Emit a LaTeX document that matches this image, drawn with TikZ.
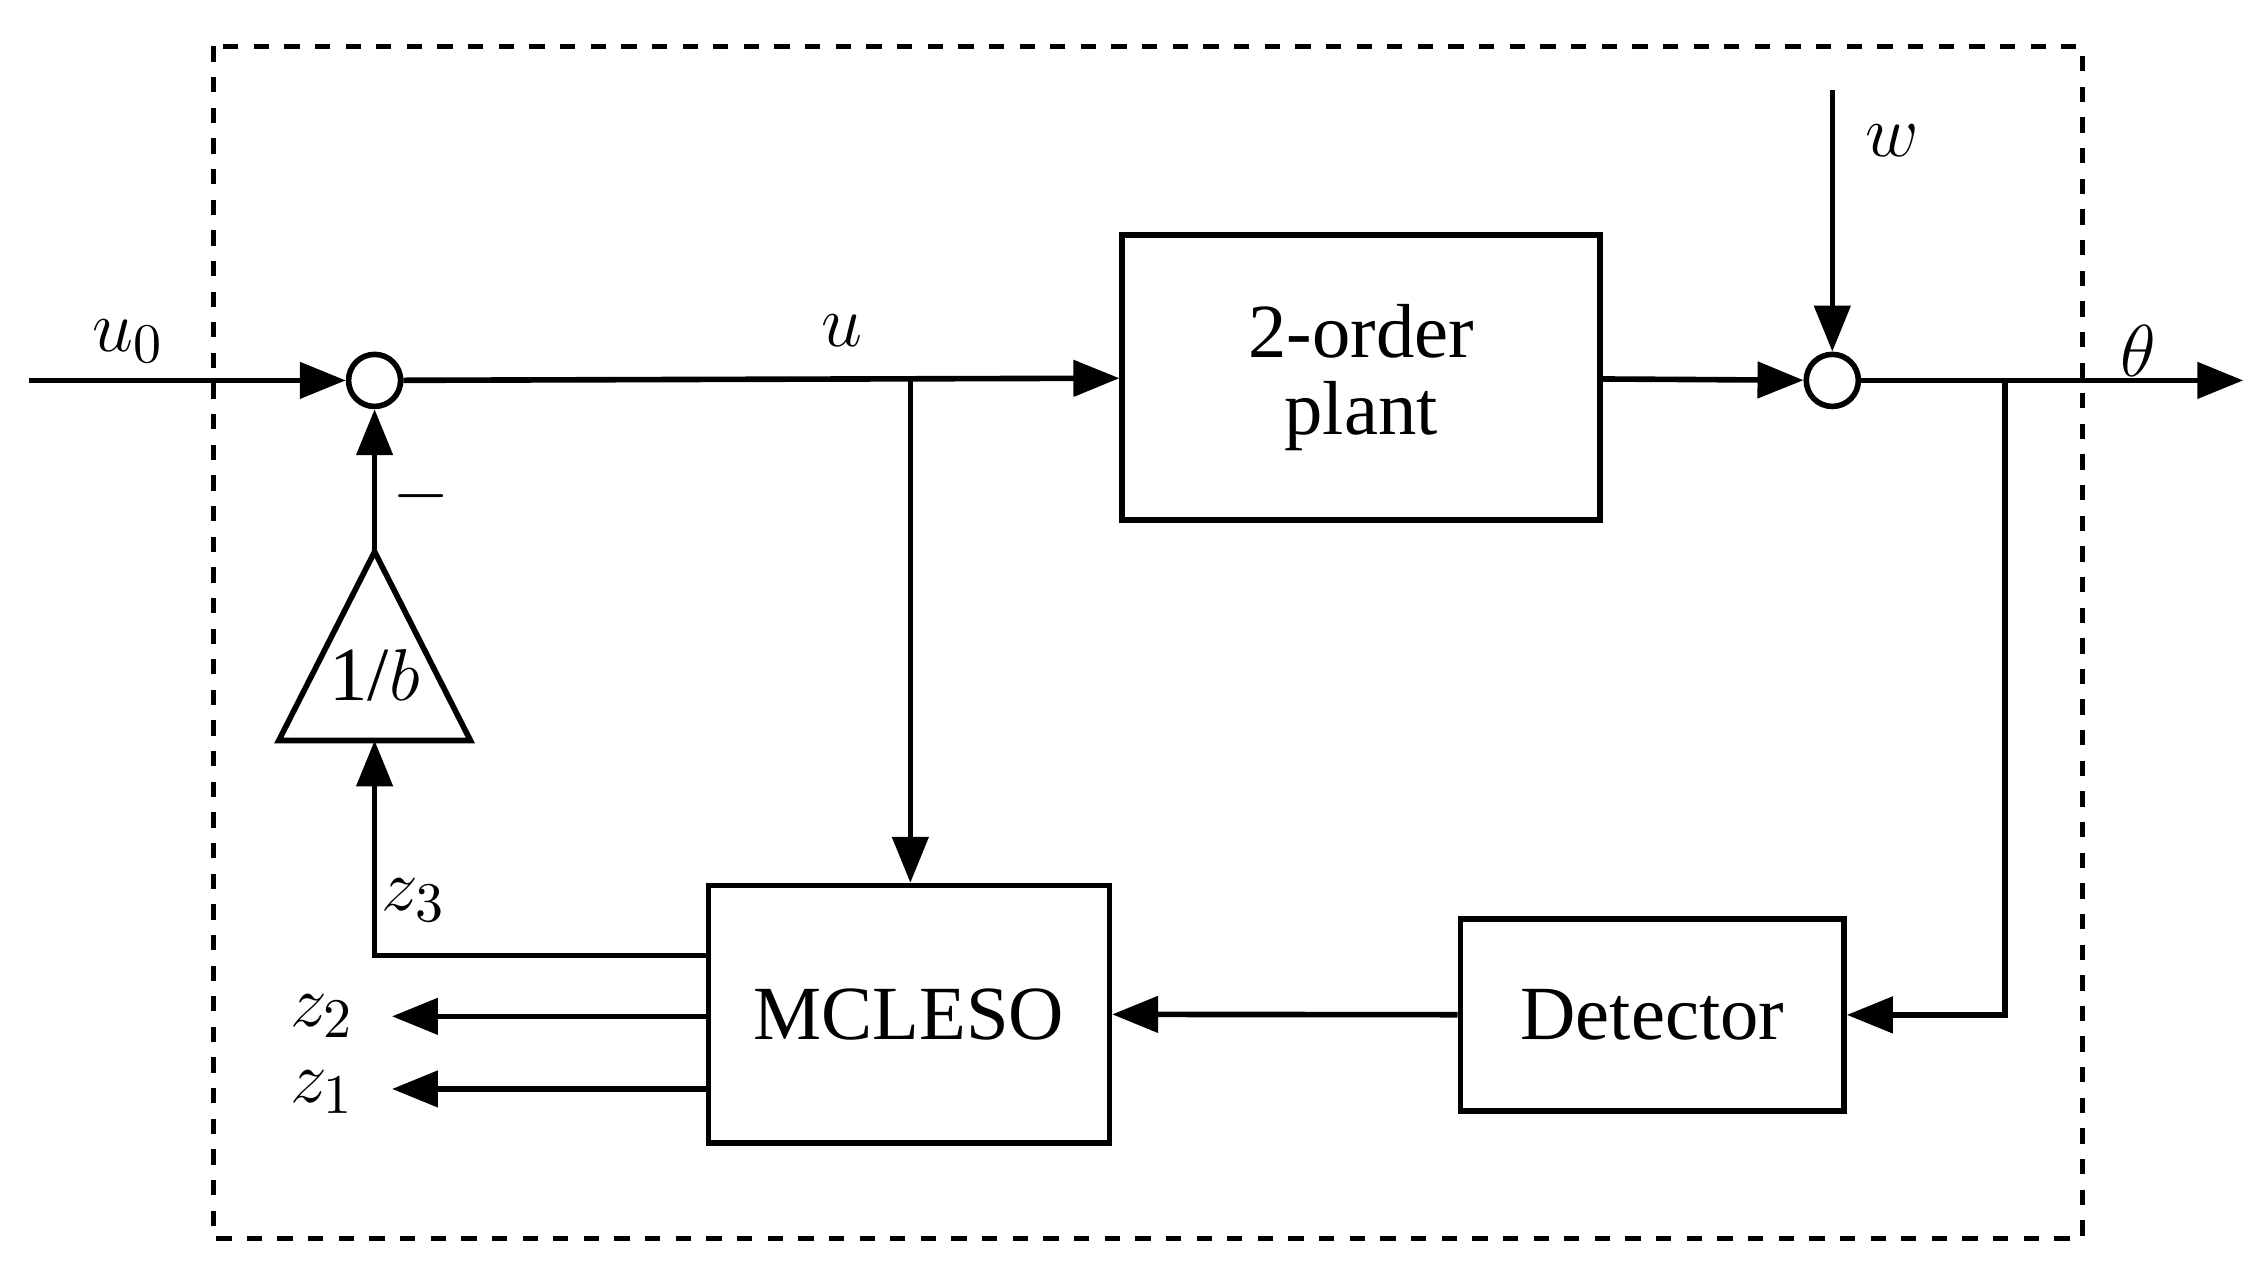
\documentclass[tikz,border=0pt]{standalone}
\usepackage{fontspec}
\setmainfont{Liberation Serif}
\usetikzlibrary{arrows.meta}
\begin{document}
\begin{tikzpicture}[x=0.01cm,y=-0.01cm,
  line width=1.1pt,
  >={Triangle[length=9pt,width=7pt]},
  blk/.style={draw,line width=1.1pt,inner sep=0pt},
  sum/.style={draw,circle,minimum size=10.2pt,inner sep=0pt,line width=1.1pt},
  lbl/.style={font=\fontsize{15}{18}\selectfont,inner sep=0pt},
  txt/.style={font=\fontsize{15}{17}\selectfont,align=center}]
\useasboundingbox (0,0) rectangle (1560,876);
\draw[dashed,line width=1pt] (147,32) rectangle (1434,853);
\coordinate (in) at (20,262);
\node[sum] (s1) at (258,262) {};
\node[sum] (s2) at (1262,262) {};
\node[blk,txt,minimum width=3.29cm,minimum height=1.96cm] (plant) at (937.5,260) {2-order\\[-2pt]plant};
\node[blk,txt,minimum width=2.76cm,minimum height=1.77cm] (eso) at (626,698.5) {MCLESO};
\node[blk,txt,minimum width=2.64cm,minimum height=1.32cm] (det) at (1138,699) {Detector};
\coordinate (br1) at (627,262);
\coordinate (br2) at (1381,262);
\coordinate (wt) at (1262,62);
\coordinate (out) at (1545,262);
\coordinate (ta) at (258,380);
\coordinate (tl) at (192,510);
\coordinate (tr) at (324,510);
\coordinate (tb) at (258,510);
\coordinate (z2e) at (270,700);
\coordinate (z1e) at (270,750);
\draw (ta) -- (tl) -- (tr) -- cycle;
\node[lbl] at (258,465) {1/$b$};
\draw[->] (in) -- (s1);
\draw[->] (s1) -- (plant);
\draw[->] (br1) -- (eso.north -| br1);
\draw[->] (plant) -- (s2);
\draw[->] (wt) -- (s2);
\draw[->] (s2) -- (out);
\draw[->] (br2) |- (det);
\draw[->] (det) -- (eso);
\draw[->] (ta) -- (s1);
\draw[->] (eso.west |- 0,658) -| (tb);
\draw[->] (eso.west |- z2e) -- (z2e);
\draw[->] (eso.west |- z1e) -- (z1e);
\node[lbl] at (88,235) {$u_0$};
\node[lbl] at (580,228) {$u$};
\node[lbl] at (1303,97) {$w$};
\node[lbl] at (1473,242) {$\theta$};
\node[lbl] at (290,342) {$-$};
\node[lbl] at (285,620) {$z_3$};
\node[lbl] at (222,700) {$z_2$};
\node[lbl] at (222,752) {$z_1$};
\end{tikzpicture}
\end{document}
